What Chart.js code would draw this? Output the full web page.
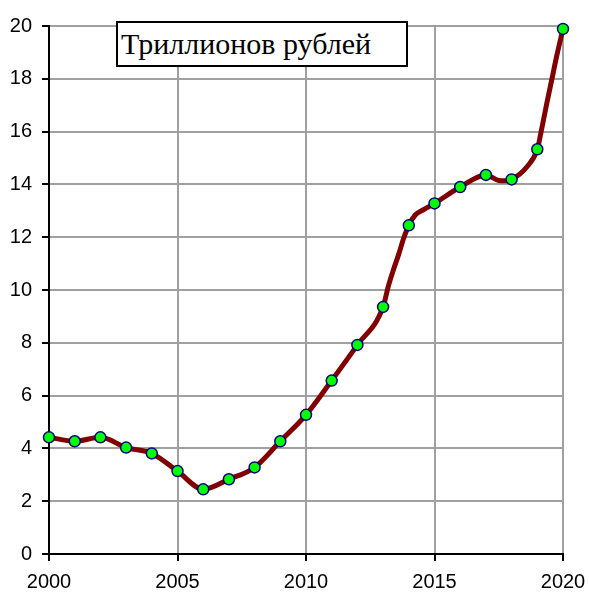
<!DOCTYPE html>
<html>
<head>
<meta charset="utf-8">
<script src="https://cdn.jsdelivr.net/npm/chart.js@4/dist/chart.umd.min.js"></script>
<style>
  body { margin: 0; background: #fff; }
  #wrap { position: relative; width: 589px; height: 594px; }
  #title-box {
    position: absolute; left: 116px; top: 21px; width: 285px; height: 42px;
    border: 2px solid #000; background: #fff;
    font-family: "Liberation Serif", "Times New Roman", serif; font-size: 30px;
    line-height: 42px; padding-left: 3px; box-sizing: content-box; color: #000;
    white-space: nowrap;
  }
</style>
</head>
<body>
<div id="wrap">
  <canvas id="chart" width="589" height="594"></canvas>
  <div id="title-box">Триллионов рублей</div>
</div>
<script>
// yearly values (markers)
const years = [2000, 2001, 2002, 2003, 2004, 2005, 2006, 2007, 2008, 2009, 2010,
               2011, 2012, 2013, 2014, 2015, 2016, 2017, 2018, 2019, 2020];
const values = [4.42, 4.27, 4.42, 4.03, 3.81, 3.14, 2.45, 2.83, 3.28, 4.27, 5.27,
                6.57, 7.92, 9.36, 12.45, 13.28, 13.90, 14.36, 14.19, 15.33, 19.89];

// denser series for the curve
const curveX = [2000, 2001, 2002, 2003, 2004, 2005, 2006, 2007, 2008, 2009, 2010,
                2011, 2012, 2013, 2013.2, 2013.4, 2013.6, 2013.8, 2014, 2014.25, 2014.55,
                2015, 2016, 2017, 2017.5, 2017.75, 2018, 2018.6, 2019,
                2019.17, 2019.37, 2019.56, 2019.75, 2020];
const curveY = [4.42, 4.27, 4.42, 4.03, 3.81, 3.14, 2.45, 2.83, 3.28, 4.27, 5.27,
                6.57, 7.92, 9.36, 10.13, 10.76, 11.33, 11.96, 12.45, 12.84, 13.03,
                13.28, 13.90, 14.36, 14.15, 14.14, 14.19, 14.67, 15.33,
                16.10, 17.07, 17.95, 18.84, 19.89];

const xTicks = [2000, 2005, 2010, 2015, 2020];

const tickFont = { family: '"Liberation Sans", Arial, sans-serif', size: 20 };

new Chart(document.getElementById('chart'), {
  type: 'line',
  data: {
    datasets: [
      {
        label: 'points',
        data: years.map((x, i) => ({ x, y: values[i] })),
        showLine: false,
        pointRadius: 5.5,
        pointBackgroundColor: '#00ff00',
        pointBorderColor: '#000080',
        pointBorderWidth: 1.5,
        order: 0,
        clip: false
      },
      {
        label: 'curve',
        data: curveX.map((x, i) => ({ x, y: curveY[i] })),
        borderColor: '#800000',
        borderWidth: 5,
        pointRadius: 0,
        cubicInterpolationMode: 'monotone',
        order: 1,
        clip: false
      }
    ]
  },
  options: {
    responsive: false,
    animation: false,
    events: [],
    layout: { autoPadding: false, padding: { top: 26, right: 26, left: 0, bottom: 0 } },
    plugins: { legend: { display: false }, tooltip: { enabled: false } },
    scales: {
      x: {
        type: 'linear',
        min: 2000, max: 2020,
        afterFit: s => { s.height = 40; s.paddingLeft = 0; s.paddingRight = 0; },
        afterBuildTicks: s => { s.ticks = xTicks.map(v => ({ value: v })); },
        ticks: { color: '#000', font: tickFont, padding: 9, maxRotation: 0,
                 callback: v => String(v) },
        grid: { color: '#a0a0a0', lineWidth: 2, tickColor: '#000', tickLength: 7 },
        border: { color: '#000', width: 2 }
      },
      y: {
        min: 0, max: 20,
        afterFit: s => { s.width = 49; s.paddingTop = 0; s.paddingBottom = 0; },
        ticks: { stepSize: 2, color: '#000', font: tickFont, padding: 10 },
        grid: { color: '#a0a0a0', lineWidth: 2, tickColor: '#000', tickLength: 7 },
        border: { color: '#000', width: 2 }
      }
    }
  }
});
</script>
</body>
</html>
